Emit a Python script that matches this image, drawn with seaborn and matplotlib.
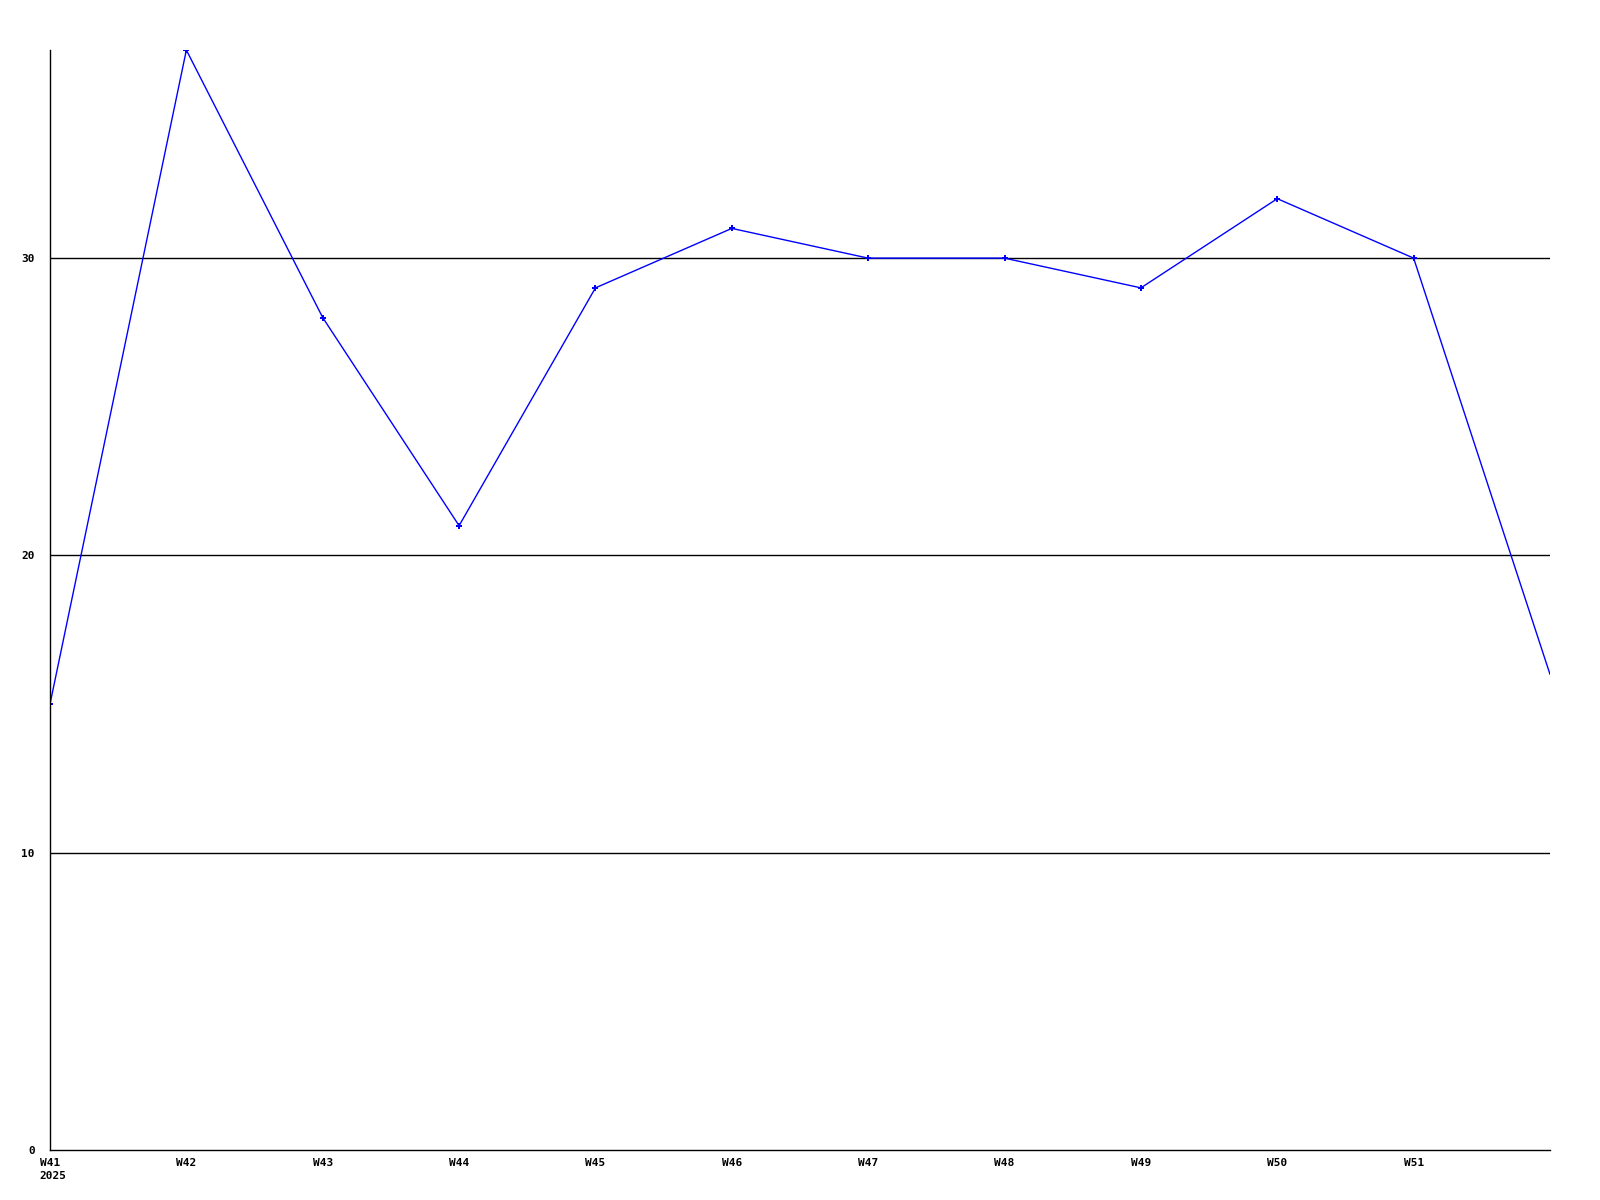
import seaborn as sns
import matplotlib.pyplot as plt
import matplotlib.transforms as mtransforms
import pandas as pd

# weekly values, last point (W52) has no label
weeks = ["W41", "W42", "W43", "W44", "W45", "W46", "W47", "W48", "W49", "W50", "W51", "W52"]
values = [15, 37, 28, 21, 29, 31, 30, 30, 29, 32, 30, 16]
tick_labels = ["W41", "W42", "W43", "W44", "W45", "W46", "W47", "W48", "W49", "W50", "W51"]
year_label = "2025"
y_ticks = [0, 10, 20, 30]

sns.set_style("white", {"text.color": "black", "xtick.color": "black", "ytick.color": "black"})
plt.rcParams['font.family'] = ['DejaVu Sans Mono', 'DejaVu Sans']

df = pd.DataFrame({"idx": range(len(weeks)), "value": values})

fig = plt.figure(figsize=(16, 12), dpi=100)
ax = fig.add_axes([0.03125, 0.0417, 0.9375, 0.9166])

sns.lineplot(data=df, x="idx", y="value", ax=ax, color="#0000ff", lw=1,
             marker="P", markersize=4, markeredgewidth=0,
             markevery=list(range(len(weeks) - 1)))

ax.set_xlim(0, len(weeks) - 1)
ax.set_ylim(0, 37)
for y in y_ticks[1:]:
    ax.axhline(y, color="black", lw=1, zorder=0)

ax.set_xticks(range(len(tick_labels)))
ax.set_xticklabels(tick_labels, fontsize=8, fontweight="bold")
ax.set_yticks(y_ticks)
ax.set_yticklabels([str(v) for v in y_ticks], fontsize=8, fontweight="bold")
ax.tick_params(axis="x", length=0, pad=6)
ax.tick_params(axis="y", length=0, pad=11)

trans = mtransforms.offset_copy(ax.get_xaxis_transform(), fig=fig, x=-11, y=-21, units="dots")
ax.text(0, 0, year_label, transform=trans, ha="left", va="top",
        fontsize=8, fontweight="bold")
ax.set(xlabel="", ylabel="")

for s in ["top", "right"]:
    ax.spines[s].set_visible(False)
for s in ["left", "bottom"]:
    ax.spines[s].set_color("black")
    ax.spines[s].set_linewidth(1)

fig.savefig("out.png", dpi=100)
